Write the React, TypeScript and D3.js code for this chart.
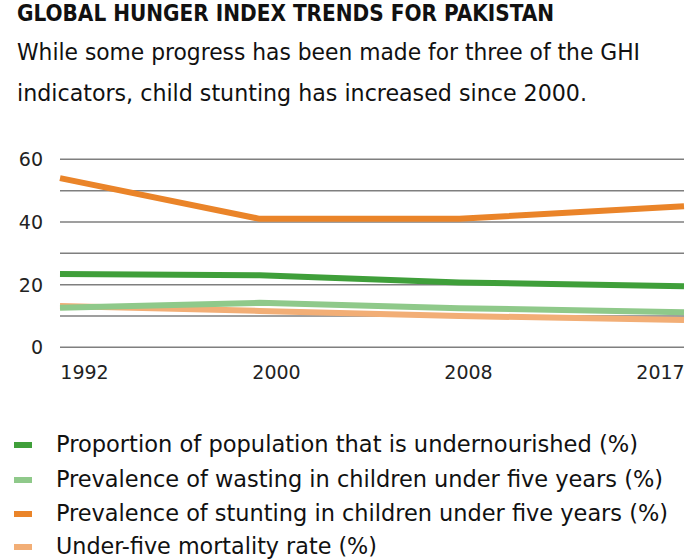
import React from "react";
import * as d3 from "d3";

const years = [1992, 2000, 2008, 2017];
const yTicks = [0, 20, 40, 60];
const gridValues = [0, 10, 20, 30, 40, 50, 60];
const undernourished = [23.4, 23.0, 20.7, 19.5];
const wasting = [12.6, 14.2, 12.5, 11.2];
const stunting = [54.0, 41.0, 41.0, 45.0];
const mortality = [13.2, 11.6, 10.0, 8.7];

const seriesNames = [
  "Proportion of population that is undernourished (%)",
  "Prevalence of wasting in children under five years (%)",
  "Prevalence of stunting in children under five years (%)",
  "Under-five mortality rate (%)",
];
const seriesColors = ["#3f9f3a", "#8fc98a", "#ea8429", "#f2ae76"];
const seriesValues = [undernourished, wasting, stunting, mortality];

const title = "GLOBAL HUNGER INDEX TRENDS FOR PAKISTAN";
const subtitle = [
  "While some progress has been made for three of the GHI",
  "indicators, child stunting has increased since 2000.",
];

const narrow = "'Liberation Sans Narrow', 'DejaVu Sans Condensed', 'Roboto Condensed', sans-serif";

export default function App() {
  const x = d3.scaleLinear().domain([1992, 2017]).range([60, 684]);
  const y = d3.scaleLinear().domain([0, 60]).range([347.3, 159.3]);
  const labelX = d3.scalePoint<number>().domain(years).range([84.5, 660.5]);
  const line = d3
    .line<number>()
    .x((_, i) => x(years[i]))
    .y((d) => y(d));
  const drawOrder = [3, 1, 0, 2];
  const legendBaselines = [452, 487, 521, 554];
  const legendWidths = [582, 607, 612, 321];

  return (
    <svg
      width={700}
      height={560}
      style={{ position: "absolute", left: 0, top: 0, background: "#fff" }}
    >
      <text
        x={17}
        y={21}
        fontFamily={narrow}
        fontWeight="bold"
        fontSize={23}
        fill="#111"
        textLength={537}
        lengthAdjust="spacingAndGlyphs"
      >
        {title}
      </text>
      <text x={17} y={60} fontFamily={narrow} fontSize={23} fill="#111" textLength={623} lengthAdjust="spacingAndGlyphs">
        {subtitle[0]}
      </text>
      <text x={17} y={101} fontFamily={narrow} fontSize={23} fill="#111" textLength={570} lengthAdjust="spacingAndGlyphs">
        {subtitle[1]}
      </text>

      {gridValues.map((v) => (
        <line key={v} x1={60} x2={684} y1={y(v)} y2={y(v)} stroke="#7f7f7f" strokeWidth={1.5} />
      ))}
      {yTicks.map((v) => (
        <text
          key={v}
          x={43}
          y={y(v)}
          textAnchor="end"
          dominantBaseline="central"
          fontFamily="'DejaVu Sans', sans-serif"
          fontSize={19}
          fill="#222"
        >
          {v}
        </text>
      ))}
      {years.map((yr) => (
        <text
          key={yr}
          x={labelX(yr)}
          y={379}
          textAnchor="middle"
          fontFamily="'DejaVu Sans', sans-serif"
          fontSize={19}
          fill="#222"
        >
          {yr}
        </text>
      ))}

      {drawOrder.map((i) => (
        <path
          key={i}
          d={line(seriesValues[i]) || ""}
          fill="none"
          stroke={seriesColors[i]}
          strokeWidth={6}
          strokeLinejoin="round"
        />
      ))}

      {seriesNames.map((name, i) => (
        <g key={name}>
          <rect x={14} y={legendBaselines[i] - 10} width={18} height={6} fill={seriesColors[i]} />
          <text
            x={56}
            y={legendBaselines[i]}
            fontFamily={narrow}
            fontSize={23}
            fill="#111"
            textLength={legendWidths[i]}
            lengthAdjust="spacingAndGlyphs"
          >
            {name}
          </text>
        </g>
      ))}
    </svg>
  );
}
